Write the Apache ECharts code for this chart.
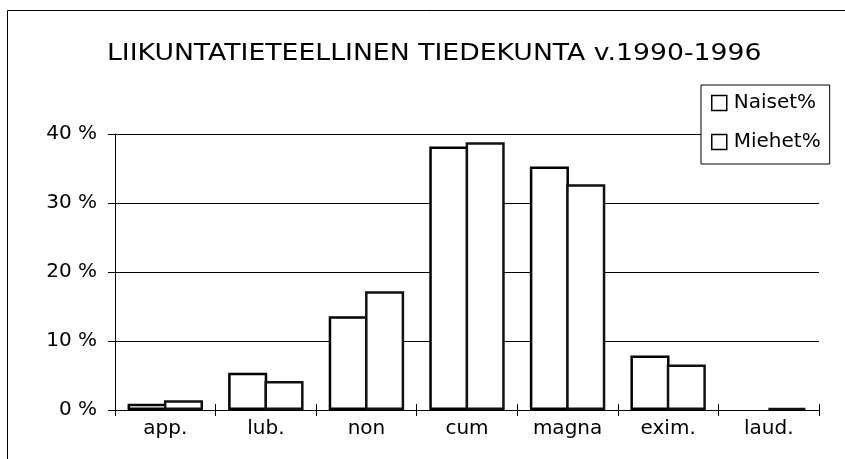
<!DOCTYPE html>
<html>
<head>
<meta charset="utf-8">
<script src="https://cdn.jsdelivr.net/npm/echarts@6/dist/echarts.min.js"></script>
<style>
  html, body { margin: 0; padding: 0; background: #fff; }
  #chart { width: 845px; height: 459px; }
</style>
</head>
<body>
<div id="chart"></div>
<script>
// Grade distribution by gender, 1990-1996
const categories = ['app.', 'lub.', 'non', 'cum', 'magna', 'exim.', 'laud.'];
const naiset = [0.9, 5.4, 13.6, 38.2, 35.3, 7.9, 0];
const miehet = [1.4, 4.2, 17.2, 38.8, 32.7, 6.6, 0.3];
const yTicks = [0, 10, 20, 30, 40];

const FONT = 'DejaVu Sans, Verdana, sans-serif';
const TITLE = 'LIIKUNTATIETEELLINEN TIEDEKUNTA v.1990-1996';

function barData(values) {
  // a zero value gets no outline so it leaves no mark on the axis
  return values.map(v => v === 0 ? { value: v, itemStyle: { borderWidth: 0 } } : v);
}

const chart = echarts.init(document.getElementById('chart'), null, { renderer: 'canvas' });

chart.setOption({
  animation: false,
  backgroundColor: '#fff',
  textStyle: { fontFamily: FONT, color: '#000' },
  graphic: [{
    type: 'rect',
    shape: { x: 7.5, y: 10.5, width: 860, height: 470 },
    style: { fill: null, stroke: '#000', lineWidth: 1 },
    silent: true
  }, {
    // chart heading, drawn slightly wide
    type: 'text',
    x: 107,
    y: 54,
    scaleX: 1.16,
    style: {
      text: TITLE,
      font: 'normal 23px ' + FONT,
      fill: '#000',
      align: 'left',
      verticalAlign: 'middle'
    },
    silent: true
  }],
  legend: {
    orient: 'vertical',
    left: 701,
    top: 85,
    padding: [8, 9, 12, 10],
    itemGap: 19,
    itemWidth: 15,
    itemHeight: 15,
    icon: 'rect',
    backgroundColor: '#fff',
    borderColor: '#000',
    borderWidth: 1,
    itemStyle: { color: '#fff', borderColor: '#000', borderWidth: 1.5 },
    textStyle: { fontFamily: FONT, fontSize: 20, color: '#000', padding: [0, 0, 0, 2] },
    data: ['Naiset%', 'Miehet%']
  },
  grid: { left: 115, right: 26, top: 134, bottom: 49, containLabel: false },
  xAxis: [{
    type: 'category',
    data: categories,
    boundaryGap: true,
    axisLine: { lineStyle: { color: '#000', width: 1 } },
    axisTick: { show: true, length: 6, lineStyle: { color: '#000' } },
    axisLabel: { fontFamily: FONT, fontSize: 20, color: '#000', margin: 9 },
    splitLine: { show: false }
  }, {
    type: 'category',
    data: categories,
    position: 'bottom',
    boundaryGap: true,
    axisLine: { show: false },
    axisTick: { show: true, inside: true, length: 6, lineStyle: { color: '#000' } },
    axisLabel: { show: false },
    splitLine: { show: false }
  }],
  yAxis: {
    type: 'value',
    min: yTicks[0],
    max: yTicks[yTicks.length - 1],
    interval: 10,
    axisLine: { show: true, lineStyle: { color: '#000', width: 1 } },
    axisTick: { show: true, length: 7, lineStyle: { color: '#000' } },
    axisLabel: { fontFamily: FONT, fontSize: 20, color: '#000', margin: 18, formatter: '{value} %' },
    splitLine: { show: true, lineStyle: { color: '#000', width: 1 } }
  },
  series: [{
    name: 'Naiset%',
    type: 'bar',
    data: barData(naiset),
    barGap: '-7%',
    barCategoryGap: '25%',
    itemStyle: { color: '#fff', borderColor: '#000', borderWidth: 2.5 }
  }, {
    name: 'Miehet%',
    type: 'bar',
    data: barData(miehet),
    barGap: '-7%',
    barCategoryGap: '25%',
    itemStyle: { color: '#fff', borderColor: '#111', borderWidth: 2.5 }
  }]
});
</script>
</body>
</html>
